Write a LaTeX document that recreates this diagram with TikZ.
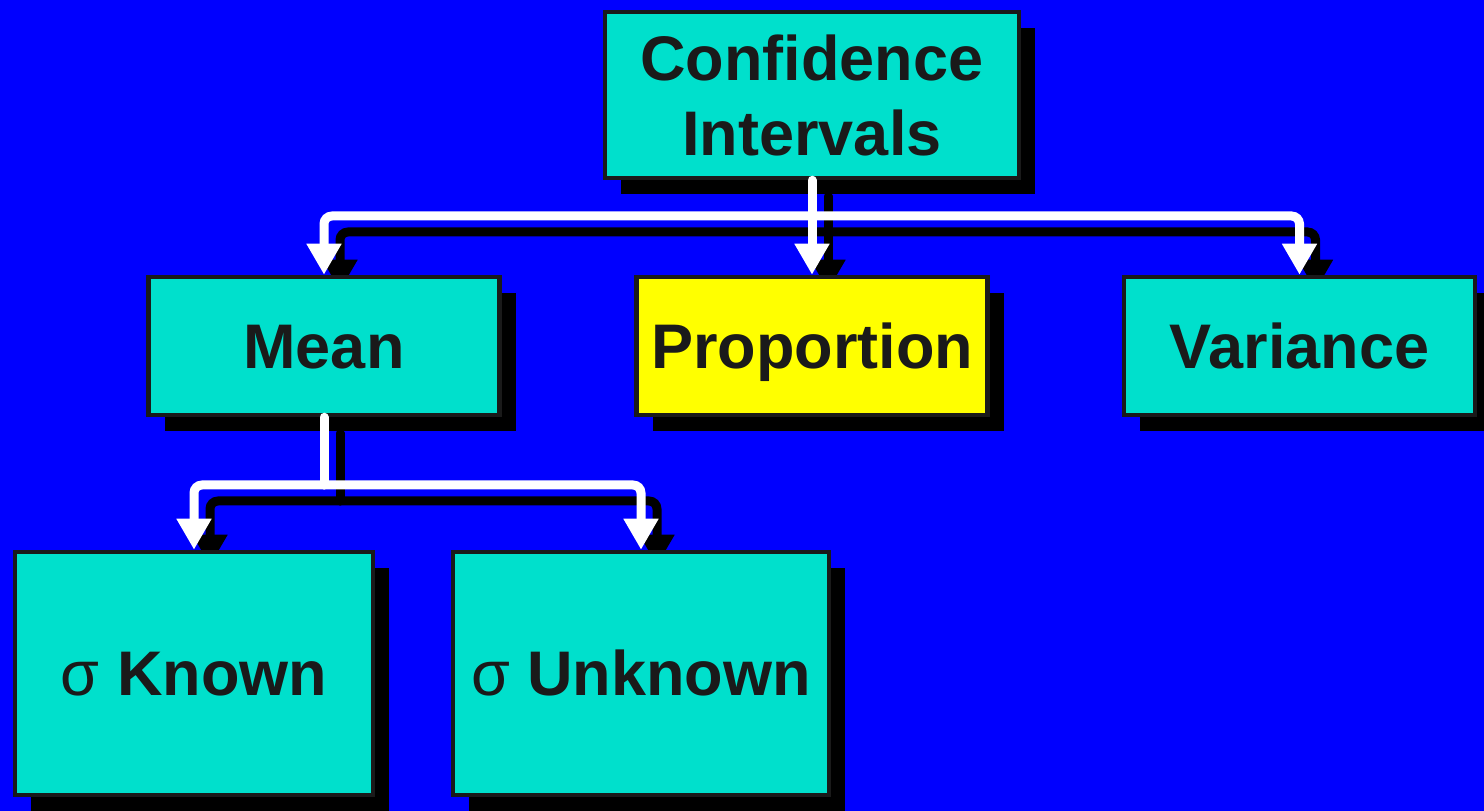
\documentclass[tikz,border=0pt]{standalone}
\usepackage{fontspec}
\setmainfont{Liberation Sans}
\usetikzlibrary{arrows.meta,shadows,backgrounds}
\definecolor{slideblue}{HTML}{0000FF}
\definecolor{boxteal}{HTML}{00E0CC}
\definecolor{boxyellow}{HTML}{FFFF00}
\definecolor{inkgray}{HTML}{1A1A1A}
\newcommand{\sig}{{\mdseries σ}}

\begin{document}
\begin{tikzpicture}[x=1pt,y=1pt,
	box/.style={draw=inkgray,line width=4.5pt,fill=boxteal,text=inkgray,
		font=\fontsize{63}{75}\selectfont\bfseries,align=center,inner sep=0pt,
		drop shadow={shadow xshift=16pt,shadow yshift=-16pt,fill=black,opacity=1}},
	oneline/.style={text height=45pt,text depth=0pt},
	ln/.style={draw=white,line width=9pt,line cap=round,rounded corners=8pt},
	arr/.style={ln,-{Triangle[width=33pt,length=31pt]}},
	shd/.style={draw=black,transform canvas={xshift=16pt,yshift=-16pt}}]
		\useasboundingbox (0,0) rectangle (1484,811);
		\begin{pgfonlayer}{background}
			\fill[slideblue] (0,0) rectangle (1484,811);
		\end{pgfonlayer}
		% boxes
		\node[box,minimum width=414pt,minimum height=166pt] (ci) at (812,716) {Confidence\\Intervals};
		\node[box,oneline,minimum width=351pt,minimum height=138pt] (mean) at (324,465) {Mean};
		\node[box,oneline,fill=boxyellow,minimum width=351pt,minimum height=138pt] (prop) at (812,465) {Proportion};
		\node[box,oneline,minimum width=351pt,minimum height=138pt] (var) at (1299.5,465) {Variance};
		\node[box,oneline,minimum width=358pt,minimum height=243pt] (known) at (194,137.5) {\sig\ Known};
		\node[box,oneline,minimum width=376pt,minimum height=243pt] (unknown) at (641,137.5) {\sig\ Unknown};
		\coordinate (top) at (812,595);
		\coordinate (mid) at (324,326);
		% shadows of the arrows
		\begin{pgfonlayer}{background}
			\draw[arr,shd] (ci.south) -- (prop.north);
			\draw[arr,shd] (top) -| (mean.north);
			\draw[arr,shd] (top) -| (var.north);
			\draw[ln,shd] (mean.south) -- (mid);
			\draw[arr,shd] (mid) -| (known.north);
			\draw[arr,shd] (mid) -| (unknown.north);
		\end{pgfonlayer}
		% arrows
		\draw[arr] (ci.south) -- (prop.north);
		\draw[arr] (top) -| (mean.north);
		\draw[arr] (top) -| (var.north);
		\draw[ln] (mean.south) -- (mid);
		\draw[arr] (mid) -| (known.north);
		\draw[arr] (mid) -| (unknown.north);
\end{tikzpicture}
\end{document}
